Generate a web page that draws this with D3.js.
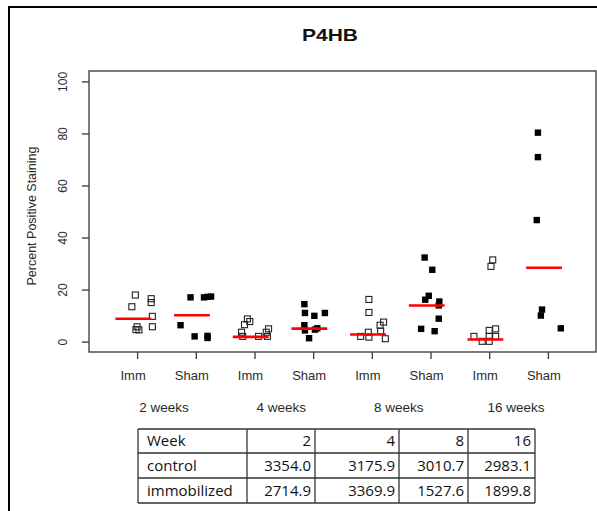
<!DOCTYPE html>
<html>
<head>
<meta charset="utf-8">
<script src="https://cdn.jsdelivr.net/npm/d3@7"></script>
<style>
  html, body { margin: 0; padding: 0; background: #fff; }
  svg { display: block; }
</style>
</head>
<body>
<script>
// P4HB staining by group: strip chart with median bars and a summary table

const groups = ["Imm", "Sham", "Imm", "Sham", "Imm", "Sham", "Imm", "Sham"];
const weekLabels = ["2 weeks", "4 weeks", "8 weeks", "16 weeks"];

// Percent positive staining per sample, per group (order as in groups)
const values = [
  [17.9, 13.4, 16.5, 15.0, 9.7, 5.7, 5.7, 4.5, 4.6],
  [17.0, 17.0, 17.2, 17.3, 6.3, 2.0, 1.4, 2.2],
  [8.7, 7.7, 6.5, 3.6, 2.0, 2.0, 3.6, 4.9, 2.0],
  [14.4, 11.0, 9.9, 11.0, 6.3, 4.3, 1.3, 4.6, 5.1],
  [16.2, 11.2, 7.5, 6.3, 4.0, 3.6, 2.0, 1.7, 1.1],
  [32.3, 27.6, 17.6, 16.1, 15.4, 13.9, 8.8, 4.9, 4.0],
  [31.4, 28.9, 2.0, 0.1, 4.3, 4.9, 2.0, 2.0, 0.1],
  [80.3, 70.9, 46.7, 12.3, 10.0, 5.1]
];
// Horizontal jitter of each sample, in group units
const jitter = [
  [-0.03, -0.09, 0.24, 0.24, 0.26, 0.26, 0.0, 0.03, -0.02],
  [-0.09, 0.14, 0.2, 0.26, -0.26, -0.02, 0.2, 0.2],
  [-0.12, -0.08, -0.17, -0.22, -0.2, 0.07, 0.2, 0.24, 0.22],
  [-0.15, -0.14, 0.02, 0.2, -0.15, -0.14, -0.07, 0.03, 0.07],
  [-0.05, -0.05, 0.2, 0.14, 0.15, -0.06, -0.19, -0.05, 0.23],
  [-0.1, 0.03, -0.03, -0.09, 0.15, 0.14, 0.14, -0.16, 0.07],
  [0.06, 0.03, -0.26, -0.12, 0.0, 0.11, 0.0, 0.11, 0.0],
  [-0.17, -0.17, -0.19, -0.1, -0.12, 0.22]
];
// Group medians (red bars)
const medians = [8.8, 10.1, 1.8, 5.0, 2.7, 13.9, 0.8, 28.4];

const yTicks = [0, 20, 40, 60, 80, 100];

// Table contents
const tableWeeks = [2, 4, 8, 16];
const controlVals = [3354.0, 3175.9, 3010.7, 2983.1];
const immobilizedVals = [2714.9, 3369.9, 1527.6, 1899.8];

const W = 597, H = 511;
const svg = d3.select("body").append("svg").attr("width", W).attr("height", H);
svg.append("rect").attr("width", W).attr("height", H).attr("fill", "#fff");

// outer frame (left and top edges)
svg.append("path").attr("d", "M9,511 V7 H597")
  .attr("fill", "none").attr("stroke", "#000").attr("stroke-width", 2);

const plot = { left: 89, right: 596, top: 71, bottom: 352 };
const x = d3.scaleLinear().domain([0.18, 8.82]).range([plot.left, plot.right]);
const y = d3.scaleLinear().domain([-4, 104]).range([plot.bottom, plot.top]);

const axisColor = "#444";
const textColor = "#2a2a2a";
const sans = "Liberation Sans, Arial, sans-serif";

// title
svg.append("text")
  .attr("x", 330).attr("y", 41)
  .attr("text-anchor", "middle")
  .attr("font-family", sans)
  .attr("font-weight", "bold")
  .attr("font-size", 17)
  .attr("textLength", 56).attr("lengthAdjust", "spacingAndGlyphs")
  .attr("fill", "#111")
  .text("P4HB");

// plot box
svg.append("rect")
  .attr("x", plot.left).attr("y", plot.top)
  .attr("width", plot.right - plot.left).attr("height", plot.bottom - plot.top)
  .attr("fill", "none").attr("stroke", axisColor).attr("stroke-width", 1.4);

// y axis with labels rotated along the axis
const yAxis = d3.axisLeft(y).tickValues(yTicks).tickSize(7);
const gy = svg.append("g").attr("transform", `translate(${plot.left},0)`).call(yAxis);
gy.select(".domain").remove();
gy.selectAll(".tick line").attr("stroke", axisColor).attr("stroke-width", 1.4);
gy.selectAll(".tick text")
  .attr("font-family", sans)
  .attr("font-size", 12)
  .attr("fill", textColor)
  .attr("text-anchor", "middle")
  .attr("transform", "translate(-26,0) rotate(-90)")
  .attr("x", 0).attr("y", 0).attr("dy", "0.35em");

// y axis title
svg.append("text")
  .attr("transform", "translate(36,216) rotate(-90)")
  .attr("text-anchor", "middle")
  .attr("font-family", sans)
  .attr("font-size", 12.5)
  .attr("fill", textColor)
  .text("Percent Positive Staining");

// x axis ticks and group labels
const idx = d3.range(1, groups.length + 1);
const xAxis = d3.axisBottom(x).tickValues(idx).tickSize(7).tickFormat(i => groups[i - 1]).tickPadding(12);
const gx = svg.append("g").attr("transform", `translate(0,${plot.bottom})`).call(xAxis);
gx.select(".domain").remove();
gx.selectAll(".tick line").attr("stroke", axisColor).attr("stroke-width", 1.4);
gx.selectAll(".tick text")
  .attr("font-family", sans)
  .attr("font-size", 13)
  .attr("fill", textColor)
  .attr("dx", -4.5);

svg.append("g").selectAll("text").data(weekLabels).join("text")
  .attr("x", (d, i) => (x(2 * i + 1) + x(2 * i + 2)) / 2 - 2.5)
  .attr("y", 412)
  .attr("text-anchor", "middle")
  .attr("font-family", sans)
  .attr("font-size", 13.5)
  .attr("fill", textColor)
  .text(d => d);

// sample points: open squares for Imm, filled for Sham
const pts = [];
values.forEach((arr, g) => arr.forEach((v, k) => pts.push({ g, v, j: jitter[g][k], open: groups[g] === "Imm" })));

const marks = svg.append("g");
marks.selectAll("rect.open").data(pts.filter(p => p.open)).join("rect")
  .attr("class", "open")
  .attr("x", p => x(p.g + 1 + p.j) - 3)
  .attr("y", p => y(p.v) - 3)
  .attr("width", 6).attr("height", 6)
  .attr("fill", "none").attr("stroke", "#222").attr("stroke-width", 1.1);
marks.selectAll("rect.filled").data(pts.filter(p => !p.open)).join("rect")
  .attr("class", "filled")
  .attr("x", p => x(p.g + 1 + p.j) - 3.2)
  .attr("y", p => y(p.v) - 3.2)
  .attr("width", 6.4).attr("height", 6.4)
  .attr("fill", "#000");

// median bars
svg.append("g").selectAll("line").data(medians).join("line")
  .attr("x1", (m, i) => x(i + 1 - 0.37))
  .attr("x2", (m, i) => x(i + 1 + 0.24))
  .attr("y1", m => y(m)).attr("y2", m => y(m))
  .attr("stroke", "#ff0000").attr("stroke-width", 2.6);

// summary table
const colX = [138, 247, 315, 399, 468, 535];
const rowY = [429, 453, 478, 503];
const rows = [
  ["Week"].concat(tableWeeks.map(String)),
  ["control"].concat(controlVals.map(v => v.toFixed(1))),
  ["immobilized"].concat(immobilizedVals.map(v => v.toFixed(1)))
];
const tbl = svg.append("g");
rowY.forEach(ry => tbl.append("line").attr("x1", colX[0]).attr("x2", colX[colX.length - 1])
  .attr("y1", ry).attr("y2", ry).attr("stroke", "#333").attr("stroke-width", 1.3));
colX.forEach(cx => tbl.append("line").attr("x1", cx).attr("x2", cx)
  .attr("y1", rowY[0]).attr("y2", rowY[rowY.length - 1]).attr("stroke", "#333").attr("stroke-width", 1.3));
rows.forEach((r, ri) => r.forEach((cell, ci) => {
  tbl.append("text")
    .attr("x", ci === 0 ? colX[0] + 9 : colX[ci + 1] - 4)
    .attr("y", (rowY[ri] + rowY[ri + 1]) / 2)
    .attr("dy", "0.36em")
    .attr("text-anchor", ci === 0 ? "start" : "end")
    .attr("font-family", "Open Sans, sans-serif")
    .attr("font-size", 15)
    .attr("fill", "#111")
    .text(cell);
}));
</script>
</body>
</html>
